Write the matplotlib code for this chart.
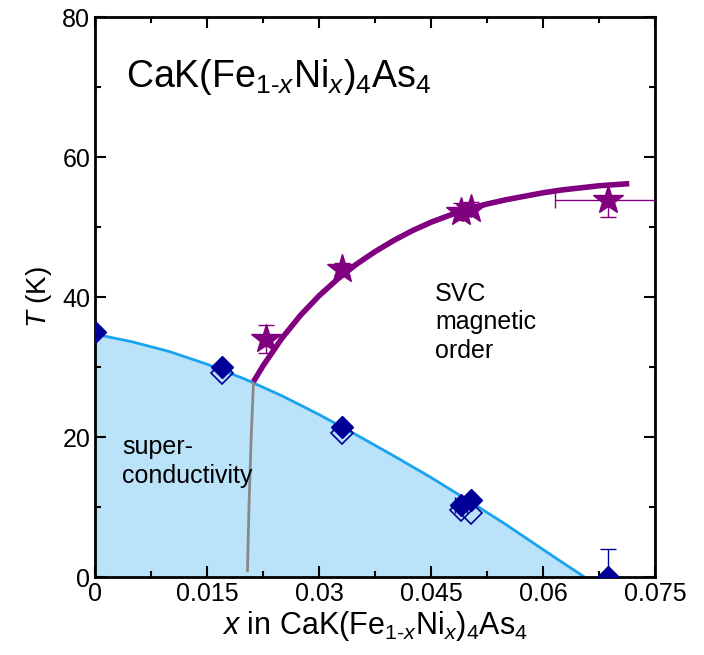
import numpy as np
import matplotlib
matplotlib.use("Agg")
from matplotlib import pyplot as plt
from matplotlib.ticker import MultipleLocator

plt.rcParams['font.family'] = ['Liberation Sans', 'DejaVu Sans']
plt.rcParams['mathtext.fontset'] = 'custom'
plt.rcParams['mathtext.rm'] = 'Liberation Sans'
plt.rcParams['mathtext.it'] = 'Liberation Sans:italic'

# Tc (filled) and onset (open) diamonds
x_tc = [0.0, 0.017, 0.0331, 0.0490, 0.0503, 0.0687]
tc_full = [35.0, 30.0, 21.4, 10.3, 11.0, 0.0]
tc_up = [0.0, 0.0, 0.0, 0.0, 0.0, 4.0]
x_tc_open = [0.017, 0.0331, 0.0490, 0.0503]
tc_open = [29.2, 20.6, 9.6, 9.2]
xerr_tc = [0.0, 0.0, 0.0, 0.0008, 0.0004, 0.0]

# T_N stars
x_tn = [0.0229, 0.0331, 0.0490, 0.0503, 0.0687]
tn = [34.0, 44.0, 52.2, 52.6, 53.8]
tn_err = [2.0, 0.8, 1.2, 1.0, 2.4]
xerr_tn = [0.0, 0.0, 0.0, 0.0, 0.0071]

# guide lines
x_sc = [0, 0.005, 0.01, 0.015, 0.02, 0.025, 0.03, 0.035, 0.04, 0.045, 0.05, 0.055, 0.06, 0.0655]
t_sc = [34.7, 33.6, 32.2, 30.4, 28.3, 25.9, 23.2, 20.3, 17.3, 14.2, 10.9, 7.5, 3.9, 0.0]

x_mag = [0.0212, 0.0225, 0.025, 0.0275, 0.030, 0.0325, 0.035, 0.0375, 0.040, 0.0425,
         0.045, 0.0475, 0.050, 0.0525, 0.055, 0.0575, 0.060, 0.0625, 0.065, 0.0675, 0.0715]
t_mag = [27.9, 30.2, 34.1, 37.4, 40.2, 42.6, 44.7, 46.5, 48.1, 49.5,
         50.7, 51.7, 52.6, 53.3, 53.9, 54.4, 54.9, 55.3, 55.6, 55.9, 56.2]

x_gray = [0.0212, 0.0209, 0.0206, 0.0204]
t_gray = [27.7, 20.0, 10.0, 0.9]

fig = plt.figure(figsize=(7.04, 6.55), dpi=100)
ax = fig.add_axes([0.135, 0.119, 0.796, 0.855])

ax.fill_between(x_sc, t_sc, 0, color='#bae3fa', lw=0)
ax.plot(x_sc, t_sc, color='#1aa3ef', lw=2)
ax.plot(x_gray, t_gray, color='#888888', lw=2)
ax.plot(x_mag, t_mag, color='#800080', lw=4, solid_capstyle='butt')

ax.errorbar(x_tc, tc_full, xerr=xerr_tc, yerr=[[0.0] * 6, tc_up],
            fmt='D', color='#000099', ms=11, elinewidth=1, capsize=6, zorder=5)
ax.plot(x_tc_open, tc_open, 'D', mfc='none', mec='#000099', ms=11, mew=1.2, zorder=4)

ax.errorbar(x_tn, tn, yerr=tn_err, xerr=xerr_tn, fmt='*', color='#800080',
            ms=22, elinewidth=1, capsize=6, zorder=6)

ax.text(0.0041, 71.5, r'CaK(Fe$_{1\text{-}x}$Ni$_x$)$_4$As$_4$', fontsize=27, va='center')
ax.text(0.0455, 42.2, 'SVC\nmagnetic\norder', fontsize=18, va='top', linespacing=1.25)
ax.text(0.0036, 20.3, 'super-\nconductivity', fontsize=18, va='top', linespacing=1.25)

ax.set_xlim(0, 0.075)
ax.set_ylim(0, 80)
ax.xaxis.set_minor_locator(MultipleLocator(0.0075))
ax.yaxis.set_major_locator(MultipleLocator(20))
ax.yaxis.set_minor_locator(MultipleLocator(10))
ax.set_xticks([0, 0.015, 0.03, 0.045, 0.06, 0.075])
ax.set_xticklabels(['0', '0.015', '0.03', '0.045', '0.06', '0.075'])
ax.tick_params(which='both', direction='in', top=True, right=True, labelsize=18, width=1.5)
ax.tick_params(which='major', length=8)
ax.tick_params(which='minor', length=4)
for s in ax.spines.values():
    s.set_linewidth(2)

ax.set_xlabel(r'$x$ in CaK(Fe$_{1\text{-}x}$Ni$_x$)$_4$As$_4$', fontsize=22, labelpad=2)
ax.set_ylabel(r'$T$ (K)', fontsize=20, labelpad=6)

fig.savefig('out.png', dpi=100)
